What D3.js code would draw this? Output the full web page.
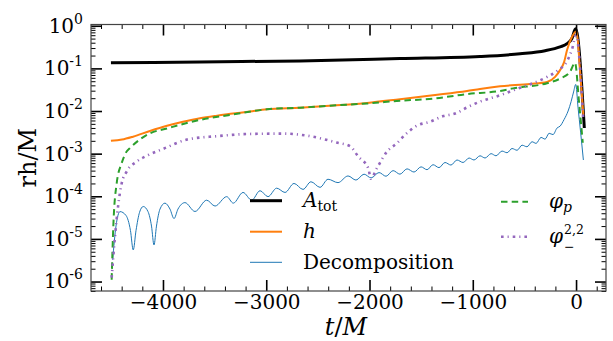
<!DOCTYPE html>
<html>
<head>
<meta charset="utf-8">
<script src="https://cdn.jsdelivr.net/npm/d3@7"></script>
<style>
  html, body { margin: 0; padding: 0; background: #fff; }
  svg { display: block; }
  text { font-family: "DejaVu Serif", serif; fill: #000; }
</style>
</head>
<body>
<svg id="chart" width="613" height="341"></svg>
<script>
// ---------- data ----------
const xTickValues = [-4000, -3000, -2000, -1000, 0];
const yTickValues = [1e-6, 1e-5, 1e-4, 1e-3, 1e-2, 1e-1, 1e0];
const yTickExponents = ["-6", "-5", "-4", "-3", "-2", "-1", "0"];

// total amplitude A_tot
const totT = [-4504, -3642, -2673, -1705, -930, -542, -300, -155, -87, -39, -5, 80];
const totV = [0.135, 0.142, 0.150, 0.170, 0.190, 0.220, 0.260, 0.320, 0.380, 0.510, 0.850, 0.0040];

// strain h
const hT = [-4504, -4397, -4290, -4126, -3961, -3806, -3642, -3477, -3322, -3157, -2993, -2673, -2353, -2024, -1705, -1385, -1056, -930, -736, -446, -281, -203, -155, -116, -87, -39, 5, 39, 71];
const hV = [2.0e-3, 2.14e-3, 2.5e-3, 3.4e-3, 4.5e-3, 5.6e-3, 6.8e-3, 7.8e-3, 8.7e-3, 9.8e-3, 1.1e-2, 1.2e-2, 1.35e-2, 1.55e-2, 1.9e-2, 2.35e-2, 2.95e-2, 3.3e-2, 3.8e-2, 4.3e-2, 4.8e-2, 6.3e-2, 9.1e-2, 0.14, 0.27, 0.55, 0.74, 0.085, 7.9e-3];

// decomposition residual
const decT = [-4487, -4455, -4416, -4358, -4315, -4288, -4261, -4227, -4191, -4145, -4111, -4087, -4063, -4029, -3981, -3932, -3893, -3855, -3787, -3690, -3577, -3496, -3383, -3319, -3225, -3141, -3060, -2983, -2899, -2818, -2731, -2644, -2567, -2479, -2402, -2305, -2208, -2131, -2053, -1985, -1908, -1840, -1772, -1705, -1637, -1569, -1501, -1443, -1385, -1327, -1269, -1211, -1153, -1094, -1036, -988, -930, -881, -823, -775, -717, -668, -620, -571, -523, -475, -426, -387, -339, -300, -261, -223, -184, -155, -116, -77, -48, -24, -3, 19, 44, 71];
const decV = [3.24e-6, 2.0e-5, 4.37e-5, 3.55e-5, 1.58e-5, 5.5e-6, 1.58e-5, 4.2e-5, 5.75e-5, 4.37e-5, 2.0e-5, 7.2e-6, 2.0e-5, 5.0e-5, 6.9e-5, 5.0e-5, 3.0e-5, 5.0e-5, 7.1e-5, 4.4e-5, 8.1e-5, 5.9e-5, 9.8e-5, 6.9e-5, 1.23e-4, 8.1e-5, 1.35e-4, 9.8e-5, 1.55e-4, 1.23e-4, 2.0e-4, 1.45e-4, 2.19e-4, 1.62e-4, 2.51e-4, 2.09e-4, 3.0e-4, 2.4e-4, 3.3e-4, 2.7e-4, 3.6e-4, 2.95e-4, 4.0e-4, 3.3e-4, 4.4e-4, 3.7e-4, 4.9e-4, 4.2e-4, 5.5e-4, 4.7e-4, 6.2e-4, 5.4e-4, 7.1e-4, 6.2e-4, 7.9e-4, 7.1e-4, 8.9e-4, 7.9e-4, 1.0e-3, 8.9e-4, 1.15e-3, 1.05e-3, 1.32e-3, 1.2e-3, 1.58e-3, 1.45e-3, 1.9e-3, 1.74e-3, 2.4e-3, 2.19e-3, 3.0e-3, 2.8e-3, 4.0e-3, 4.4e-3, 6.3e-3, 1.0e-2, 1.66e-2, 2.8e-2, 4.2e-2, 1.23e-2, 3.2e-3, 7.1e-4];

// phi_p
const phiPT = [-4497, -4481, -4448, -4400, -4352, -4320, -4126, -3961, -3642, -3322, -2993, -2673, -2353, -2024, -1705, -1385, -1056, -736, -610, -281, -155, -58, -10, 29, 65];
const phiPV = [1.1e-6, 1.95e-5, 2.04e-4, 6.0e-4, 1.12e-3, 1.35e-3, 3.0e-3, 3.9e-3, 6.2e-3, 8.3e-3, 1.1e-2, 1.2e-2, 1.35e-2, 1.5e-2, 1.74e-2, 1.95e-2, 2.5e-2, 2.95e-2, 3.4e-2, 4.5e-2, 5.75e-2, 8.3e-2, 0.135, 1.6e-2, 1.8e-3];

// phi_-^{2,2}
const phiMT = [-4497, -4465, -4448, -4433, -4400, -4352, -4255, -4142, -4000, -3767, -3477, -3157, -2838, -2547, -2318, -2189, -2108, -2011, -1988, -1930, -1833, -1737, -1640, -1543, -1414, -1285, -1172, -1043, -930, -736, -542, -416, -281, -174, -87, -39, 0, 68];
const phiMV = [1.23e-6, 1.12e-5, 3.0e-5, 6.3e-5, 2.0e-4, 3.8e-4, 6.5e-4, 9.3e-4, 1.29e-3, 2.14e-3, 2.57e-3, 2.9e-3, 2.95e-3, 2.5e-3, 1.82e-3, 1.5e-3, 8.5e-4, 4.5e-4, 2.6e-4, 4.5e-4, 1.1e-3, 1.74e-3, 3.0e-3, 4.5e-3, 5.6e-3, 7.6e-3, 8.7e-3, 1.26e-2, 1.66e-2, 2.34e-2, 3.5e-2, 4.5e-2, 6.3e-2, 9.1e-2, 0.148, 0.28, 0.6, 7.2e-3];

// ---------- layout ----------
const plotLeft = 91, plotRight = 606, plotTop = 24.5, plotBottom = 291;

const svg = d3.select("#chart");

const x = d3.scaleLinear().domain([-4697, 290]).range([plotLeft, plotRight]);
const y = d3.scaleLog().domain([6.0e-7, 1.07]).range([plotBottom, plotTop]);

svg.append("defs").append("clipPath").attr("id", "plotclip")
  .append("rect").attr("x", plotLeft).attr("y", plotTop)
  .attr("width", plotRight - plotLeft).attr("height", plotBottom - plotTop);

// ---------- series ----------
const line = d3.line()
  .x(d => x(d[0]))
  .y(d => y(d[1]))
  .curve(d3.curveMonotoneX);

const series = [
  { t: totT, v: totV, color: "#000000", width: 3, dash: null },
  { t: hT, v: hV, color: "#ff7f0e", width: 2, dash: null },
  { t: decT, v: decV, color: "#1f77b4", width: 1, dash: null },
  { t: phiPT, v: phiPV, color: "#2ca02c", width: 2, dash: "6.5,4.2" },
  { t: phiMT, v: phiMV, color: "#9467bd", width: 2.6, dash: "2.6,4,1.1,4" }
];

const plot = svg.append("g").attr("clip-path", "url(#plotclip)");
series.forEach(s => {
  plot.append("path")
    .datum(d3.zip(s.t, s.v))
    .attr("d", line)
    .attr("fill", "none")
    .attr("stroke", s.color)
    .attr("stroke-width", s.width)
    .attr("stroke-linejoin", "round")
    .attr("stroke-dasharray", s.dash);
});

// ---------- axes ----------
const majorLen = 11, minorLen = 4.5;
const minorX = d3.range(-4600, 300, 200).filter(v => v % 1000 !== 0);
const minorY = y.ticks().filter(v => Math.abs(Math.log10(v) - Math.round(Math.log10(v))) > 1e-6);

function styleAxis(g, w) {
  g.select(".domain").remove();
  g.selectAll(".tick line").attr("stroke", "#000").attr("stroke-width", w);
}

// bottom
svg.append("g").attr("transform", `translate(0,${plotBottom})`)
  .call(d3.axisBottom(x).tickValues(minorX).tickSizeInner(-minorLen).tickSizeOuter(0).tickFormat(""))
  .call(g => styleAxis(g, 1));
const xAxisG = svg.append("g").attr("transform", `translate(0,${plotBottom})`)
  .call(d3.axisBottom(x).tickValues(xTickValues).tickSizeInner(-majorLen).tickSizeOuter(0)
    .tickPadding(4).tickFormat(d => d < 0 ? "\u2212" + Math.abs(d) : String(d)))
  .call(g => styleAxis(g, 1.6));
xAxisG.selectAll(".tick text")
  .attr("font-size", 20).attr("font-family", "DejaVu Serif").attr("fill", "#000");

// top
svg.append("g").attr("transform", `translate(0,${plotTop})`)
  .call(d3.axisTop(x).tickValues(minorX).tickSizeInner(-minorLen).tickSizeOuter(0).tickFormat(""))
  .call(g => styleAxis(g, 1));
svg.append("g").attr("transform", `translate(0,${plotTop})`)
  .call(d3.axisTop(x).tickValues(xTickValues).tickSizeInner(-majorLen).tickSizeOuter(0).tickFormat(""))
  .call(g => styleAxis(g, 1.6));

// left
svg.append("g").attr("transform", `translate(${plotLeft},0)`)
  .call(d3.axisLeft(y).tickValues(minorY).tickSizeInner(-minorLen).tickSizeOuter(0).tickFormat(""))
  .call(g => styleAxis(g, 1));
const yAxisG = svg.append("g").attr("transform", `translate(${plotLeft},0)`)
  .call(d3.axisLeft(y).tickValues(yTickValues).tickSizeInner(-majorLen).tickSizeOuter(0)
    .tickPadding(8).tickFormat(""))
  .call(g => styleAxis(g, 1.6));
yAxisG.selectAll(".tick text").each(function(d, i) {
  const t = d3.select(this)
    .attr("font-size", 20).attr("font-family", "DejaVu Serif").attr("fill", "#000");
  t.text(null);
  t.append("tspan").text("10");
  t.append("tspan").attr("font-size", 14).attr("dy", -9).text(yTickExponents[i]);
});

// right
svg.append("g").attr("transform", `translate(${plotRight},0)`)
  .call(d3.axisRight(y).tickValues(minorY).tickSizeInner(-minorLen).tickSizeOuter(0).tickFormat(""))
  .call(g => styleAxis(g, 1));
svg.append("g").attr("transform", `translate(${plotRight},0)`)
  .call(d3.axisRight(y).tickValues(yTickValues).tickSizeInner(-majorLen).tickSizeOuter(0).tickFormat(""))
  .call(g => styleAxis(g, 1.6));

// frame
svg.append("rect")
  .attr("x", plotLeft).attr("y", plotTop)
  .attr("width", plotRight - plotLeft).attr("height", plotBottom - plotTop)
  .attr("fill", "none").attr("stroke", "#444").attr("stroke-width", 1.2);

// axis titles
svg.append("text")
  .attr("transform", `translate(28,${(plotTop + plotBottom) / 2}) rotate(-90)`)
  .attr("text-anchor", "middle").attr("dominant-baseline", "central")
  .attr("font-size", 24).text("rh/M");

const xLab = svg.append("text")
  .attr("x", 346).attr("y", 335).attr("text-anchor", "middle").attr("font-size", 24);
xLab.append("tspan").attr("font-style", "italic").text("t");
xLab.append("tspan").text("/");
xLab.append("tspan").attr("font-style", "italic").text("M");

// ---------- legend ----------
const legendItems = [
  { color: "#000000", width: 3, dash: null, x0: 250, x1: 282, y: 200.7, tx: 303 },
  { color: "#ff7f0e", width: 2, dash: null, x0: 250, x1: 282, y: 231.7, tx: 303 },
  { color: "#1f77b4", width: 1, dash: null, x0: 250, x1: 282, y: 262.3, tx: 303 },
  { color: "#2ca02c", width: 2, dash: "6.5,4.2", x0: 501, x1: 528, y: 201.7, tx: 549 },
  { color: "#9467bd", width: 2.6, dash: "2.6,4,1.1,4", x0: 501, x1: 528, y: 236.7, tx: 549 }
];
const legend = svg.append("g");
legendItems.forEach(it => {
  legend.append("line")
    .attr("x1", it.x0).attr("x2", it.x1).attr("y1", it.y).attr("y2", it.y)
    .attr("stroke", it.color).attr("stroke-width", it.width)
    .attr("stroke-dasharray", it.dash);
});

const fs = 20;
// A_tot
(function() {
  const it = legendItems[0];
  const t = legend.append("text").attr("x", it.tx).attr("y", it.y + 6.5).attr("font-size", fs);
  t.append("tspan").attr("font-style", "italic").text("A");
  t.append("tspan").attr("font-size", 14).attr("dy", 4).text("tot");
})();
// h
legend.append("text").attr("x", legendItems[1].tx).attr("y", legendItems[1].y + 6.5)
  .attr("font-size", fs).attr("font-style", "italic").text("h");
// Decomposition
legend.append("text").attr("x", legendItems[2].tx).attr("y", legendItems[2].y + 6.5)
  .attr("font-size", fs).text("Decomposition");
// phi_p
(function() {
  const it = legendItems[3];
  const t = legend.append("text").attr("x", it.tx).attr("y", it.y + 6.5).attr("font-size", fs);
  t.append("tspan").attr("font-style", "italic").text("\u03C6");
  t.append("tspan").attr("font-size", 14).attr("font-style", "italic").attr("dy", 4).text("p");
})();
// phi_-^{2,2}: superscript and subscript stacked after the phi
(function() {
  const it = legendItems[4];
  const base = it.y + 6.5;
  const phi = legend.append("text").attr("x", it.tx).attr("y", base)
    .attr("font-size", fs).attr("font-style", "italic").text("\u03C6");
  const w = phi.node().getComputedTextLength();
  legend.append("text").attr("x", it.tx + w + 1).attr("y", base - 9)
    .attr("font-size", 12.5).text("2,2");
  legend.append("text").attr("x", it.tx + w + 1).attr("y", base + 8)
    .attr("font-size", 12.5).text("\u2212");
})();
</script>
</body>
</html>
